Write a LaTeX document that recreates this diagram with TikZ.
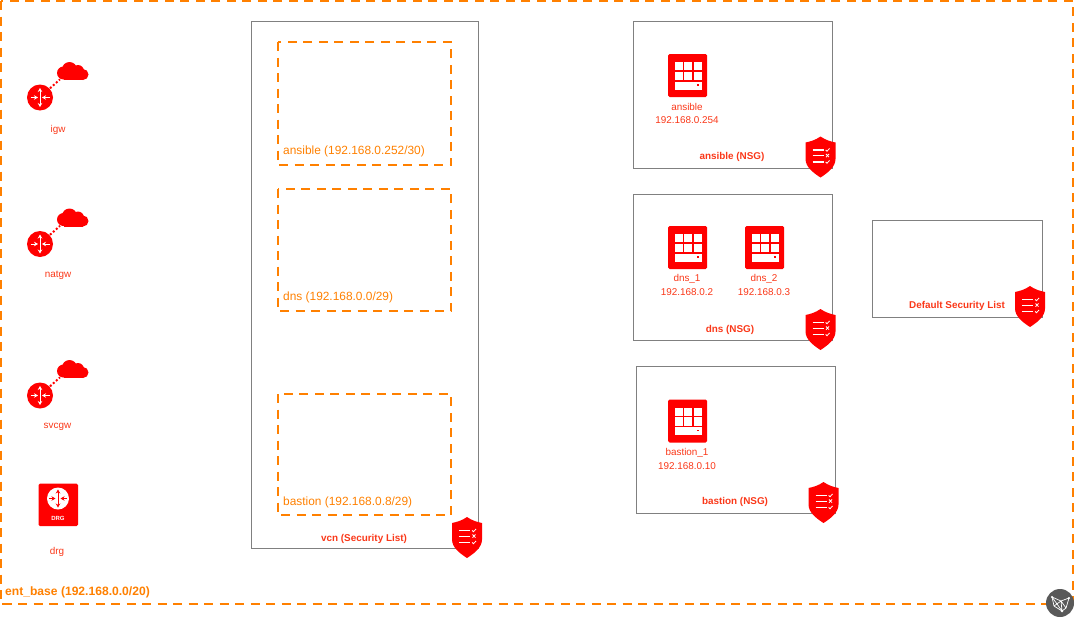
\documentclass[tikz,border=0pt]{standalone}
\usepackage{fontspec}
\setmainfont{Liberation Sans}
\usetikzlibrary{arrows.meta}
\definecolor{ocired}{rgb}{1.,0.,0.}
\definecolor{ocitext}{rgb}{0.98,0.22,0.10}
\definecolor{ociorange}{rgb}{1.,0.5,0.}
\definecolor{ocigrey}{rgb}{0.5,0.5,0.5}
\definecolor{hubgrey}{rgb}{0.35,0.35,0.35}
\tikzset{
  boxline/.style={draw=ocigrey,line width=0.9pt},
  dashline/.style={draw=ociorange,line width=1.7pt,dash pattern=on 9pt off 6.5pt},
  iconlabel/.style={text=ocitext,font=\fontsize{9.9}{11}\selectfont,inner sep=0pt},
  grouplabel/.style={text=ocitext,font=\fontsize{9.9}{11}\selectfont\bfseries,inner sep=0pt},
  subnetlabel/.style={text=ociorange,font=\fontsize{11.9}{13}\selectfont,inner sep=0pt,anchor=west},
  whitearrow/.style={white,line width=0.9pt,-{Stealth[length=4pt,width=4.5pt]}},
  computeicon/.pic={
    \fill [ocired,rounded corners=1.5pt] (-19.5,-21.5) rectangle (19.5,21.5);
    \foreach \cx in {-13,-3.5,6}
      \foreach \cy in {-13.3,-3.7}
        \fill [white] (\cx,\cy) rectangle ++(8,8.2);
    \fill [white] (-13,6) rectangle (14,14);
    \fill [ocired] (9,8.8) rectangle (11,10.4);
  },
  shieldicon/.pic={
    \fill [ocired] (0,-20.5) .. controls (5,-17) and (10,-15.5) .. (15,-14.5) -- (15,2)
      .. controls (15,10) and (7,16) .. (0,20.5) .. controls (-7,16) and (-15,10) .. (-15,2)
      -- (-15,-14.5) .. controls (-10,-15.5) and (-5,-17) .. (0,-20.5) -- cycle;
    \foreach \ly in {-7,-1.3,5} \draw [white,line width=1.2pt] (-8,\ly) -- (3,\ly);
    \draw [white,line width=0.8pt] (5.2,-7) -- (6.5,-5.8) -- (9,-8.5);
    \draw [white,line width=0.8pt] (5.5,-3) -- (8.5,0.2) (8.5,-3) -- (5.5,0.2);
    \draw [white,line width=0.8pt] (5.2,5) -- (6.5,6.2) -- (9,3.5);
  },
  routerhub/.pic={
    \fill [ocired] (0,0) circle (13);
    \draw [whitearrow] (0,0) -- (0,-9.5);
    \draw [whitearrow] (0,0) -- (0,9.5);
    \draw [whitearrow] (-9.5,0) -- (-2,0);
    \draw [whitearrow] (9.5,0) -- (2,0);
    \fill [ocired] (23.5,-24.5) circle (6.5);
    \fill [ocired] (29.5,-28) circle (7.5);
    \fill [ocired] (38,-26.5) circle (6);
    \fill [ocired] (43,-23) circle (5.5);
    \fill [ocired] (23.5,-24) rectangle (43,-17.5);
    \draw [ocired,line width=2pt,dash pattern=on 2pt off 2pt] (10,-9.2) -- (20,-18.2);
  },
}
\begin{document}
\begin{tikzpicture}[x=1pt,y=-1pt]
    \useasboundingbox (0,0) rectangle (1078,621);
    % outer network
    \draw [dashline] (1,1) rectangle (1073,604);
    \node [text=ociorange,font=\fontsize{12.1}{14}\selectfont\bfseries,inner sep=0pt,anchor=west] (entbase) at (5,592) {ent\_base (192.168.0.0/20)};
    % gateways
    \pic at (40,97.5) {routerhub};
    \pic at (40,244) {routerhub};
    \pic at (40,395.5) {routerhub};
    \node [iconlabel] (igw) at (58,129.5) {igw};
    \node [iconlabel] (natgw) at (58,275.5) {natgw};
    \node [iconlabel] (svcgw) at (57.5,426.5) {svcgw};
    \fill [ocired,rounded corners=1.5pt] (38.5,483.5) rectangle (78,526);
    \fill [white] (58,498.5) circle (11);
    \draw [whitearrow,ocired] (58,498.5) -- (58,489.5);
    \draw [whitearrow,ocired] (58,498.5) -- (58,507.5);
    \draw [whitearrow,ocired] (49,498.5) -- (55.5,498.5);
    \draw [whitearrow,ocired] (67,498.5) -- (60.5,498.5);
    \node [text=white,font=\fontsize{6}{7}\selectfont\bfseries,inner sep=0pt] (drgmark) at (58,518) {DRG};
    \node [iconlabel] (drg) at (57,551.5) {drg};
    % vcn and subnets
    \draw [boxline] (251.5,21.5) rectangle (478.5,548.5);
    \draw [dashline] (278,42) rectangle (451,165);
    \draw [dashline] (278,189) rectangle (451,311);
    \draw [dashline] (278,394) rectangle (451,515);
    \node [subnetlabel] (ansiblenet) at (283,151.5) {ansible (192.168.0.252/30)};
    \node [subnetlabel] (dnsnet) at (283,297.5) {dns (192.168.0.0/29)};
    \node [subnetlabel] (bastionnet) at (283,502.5) {bastion (192.168.0.8/29)};
    \node [grouplabel] (vcnlist) at (364,538.5) {vcn (Security List)};
    \pic at (467,537.5) {shieldicon};
    % security groups
    \draw [boxline] (633.5,21.5) rectangle (832.5,168.5);
    \draw [boxline] (633.5,194.5) rectangle (832.5,340.5);
    \draw [boxline] (636.5,366.5) rectangle (835.5,513.5);
    \draw [boxline] (872.5,220.5) rectangle (1042.5,317.5);
    \node [grouplabel] (ansiblensg) at (732,157) {ansible (NSG)};
    \node [grouplabel] (dnsnsg) at (730,330) {dns (NSG)};
    \node [grouplabel] (bastionnsg) at (735,502) {bastion (NSG)};
    \node [grouplabel] (defaultlist) at (957,306) {Default Security List};
    \pic at (820.5,157) {shieldicon};
    \pic at (820.5,329.5) {shieldicon};
    \pic at (823.5,502.5) {shieldicon};
    \pic at (1030,306.5) {shieldicon};
    % instances
    \pic at (687.5,75.5) {computeicon};
    \pic at (687.5,247.5) {computeicon};
    \pic at (764.5,247.5) {computeicon};
    \pic at (687.5,421) {computeicon};
    \node [iconlabel] (ansible) at (687,107) {ansible};
    \node [iconlabel] (ansibleip) at (687,120) {192.168.0.254};
    \node [iconlabel] (dnsone) at (687,278.5) {dns\_1};
    \node [iconlabel] (dnsoneip) at (687,292) {192.168.0.2};
    \node [iconlabel] (dnstwo) at (764,278.5) {dns\_2};
    \node [iconlabel] (dnstwoip) at (764,292) {192.168.0.3};
    \node [iconlabel] (bastion) at (687,452.5) {bastion\_1};
    \node [iconlabel] (bastionip) at (687,466) {192.168.0.10};
    % hub badge
    \fill [hubgrey] (1060,603) circle (14);
    \draw [white,line width=0.7pt,line join=round] (1052,597) -- (1061,601) -- (1069,598) -- (1066,608) -- (1062,611) -- (1054,606) -- cycle;
    \draw [white,line width=0.7pt] (1052,597) -- (1062,611) -- (1061,601) -- (1054,606) (1061,601) -- (1066,608);
    \fill [white] (1062,611) circle (1.3) (1052,597) circle (1.1) (1069,598) circle (1.1);
\end{tikzpicture}
\end{document}
